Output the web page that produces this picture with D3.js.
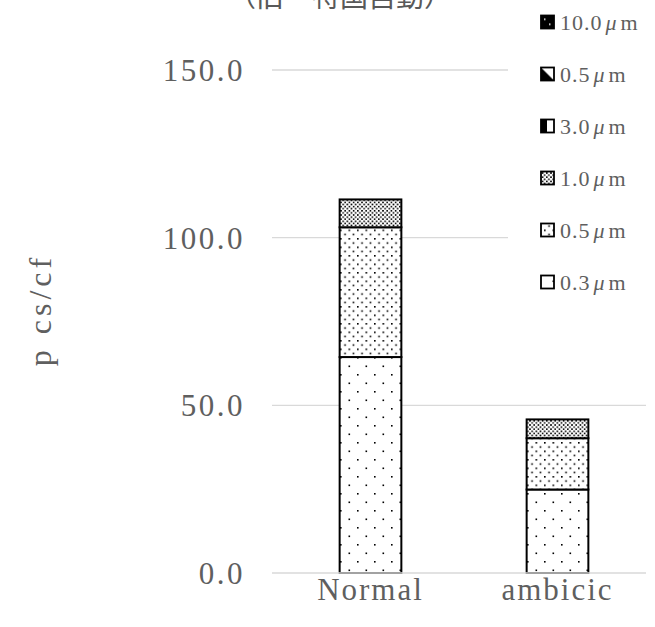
<!DOCTYPE html>
<html><head><meta charset="utf-8">
<script src="https://cdn.jsdelivr.net/npm/d3@7"></script>
<style>body{margin:0;background:#fff}svg{display:block}</style>
</head><body>
<script>
const categories = ["Normal", "ambicic"];
const seriesNames = ["0.3\u03bcm", "0.5\u03bcm", "1.0\u03bcm", "3.0\u03bcm", "0.5\u03bcm ", "10.0\u03bcm"];
const legendLabels = ["0.3", "0.5", "1.0", "3.0", "0.5", "10.0"];
const s03 = [64.4, 24.9];
const s05 = [38.7, 15.3];
const s10 = [8.3, 5.6];
const s30 = [0, 0];
const s05b = [0, 0];
const s100 = [0, 0];
const yTicks = [0, 50, 100, 150];
const seriesValues = [s03, s05, s10, s30, s05b, s100];

const W = 655, H = 627;
const svg = d3.select("body").append("svg").attr("width", W).attr("height", H);
const defs = svg.append("defs");
const serif = "'Liberation Serif','DejaVu Serif',serif";

function dotPattern(id, spacing, r) {
  const p = defs.append("pattern").attr("id", id).attr("patternUnits", "userSpaceOnUse")
    .attr("width", spacing).attr("height", spacing);
  p.append("rect").attr("width", spacing).attr("height", spacing).attr("fill", "#fff");
  p.append("rect").attr("x", 0).attr("y", 0).attr("width", r).attr("height", r).attr("fill", "#000");
  p.append("rect").attr("x", spacing / 2).attr("y", spacing / 2).attr("width", r).attr("height", r).attr("fill", "#000");
}
dotPattern("p03", 17, 1.6);
dotPattern("p05", 8.5, 1.6);
dotPattern("p10", 4.2, 1.6);
(function(){
  const p = defs.append("pattern").attr("id","p30").attr("patternUnits","objectBoundingBox").attr("width",1).attr("height",1);
  p.append("rect").attr("width",14).attr("height",14).attr("fill","#fff");
  p.append("rect").attr("width",6).attr("height",14).attr("fill","#000");
  const q = defs.append("pattern").attr("id","p05b").attr("patternUnits","objectBoundingBox").attr("width",1).attr("height",1);
  q.append("rect").attr("width",14).attr("height",14).attr("fill","#000");
  q.append("path").attr("d","M0,0 L14,14 L14,0 Z").attr("fill","#fff");
  q.append("path").attr("d","M0,3 L11,14 L0,14 Z").attr("fill","#000");
  const r = defs.append("pattern").attr("id","p100").attr("patternUnits","objectBoundingBox").attr("width",1).attr("height",1);
  r.append("rect").attr("width",14).attr("height",14).attr("fill","#000");
  r.append("rect").attr("x",3).attr("y",3).attr("width",1.5).attr("height",1.5).attr("fill","#fff");
  r.append("rect").attr("x",8).attr("y",8).attr("width",1.5).attr("height",1.5).attr("fill","#fff");
})();
const fills = ["url(#p03)", "url(#p05)", "url(#p10)", "url(#p30)", "url(#p05b)", "url(#p100)"];

const x = d3.scaleBand().domain(categories).range([277, 651]).paddingInner(0.67).paddingOuter(0.335);
const y = d3.scaleLinear().domain([0, 150]).range([573, 70]);
const gx0 = 272, gx1 = 646;

// title (mostly cut off at top, as in the reference)
svg.append("text").attr("x", 340).attr("y", 7).attr("text-anchor", "middle")
  .attr("font-family", "'Noto Sans CJK JP',sans-serif").attr("font-size", 28).attr("fill", "#595959")
  .text("（旧一特国自動）");

// gridlines
svg.append("g").selectAll("line").data(yTicks.filter(d => d > 0)).join("line")
  .attr("x1", gx0).attr("x2", gx1).attr("y1", d => y(d)).attr("y2", d => y(d))
  .attr("stroke", "#d9d9d9").attr("stroke-width", 1.3);

// y tick labels
svg.append("g").selectAll("text").data(yTicks).join("text")
  .attr("x", 245).attr("y", d => y(d) + 11).attr("text-anchor", "end")
  .attr("font-family", serif).attr("font-size", 31).attr("letter-spacing", 2.5).attr("fill", "#5f5f5f")
  .text(d => d3.format(".1f")(d));

// stacked bars
const table = categories.map((c, i) => {
  const o = { cat: c };
  seriesValues.forEach((s, k) => o["s" + k] = s[i]);
  return o;
});
const stack = d3.stack().keys(seriesValues.map((_, k) => "s" + k))(table);
stack.forEach((layer, k) => {
  svg.append("g").selectAll("rect").data(layer.filter(d => d[1] - d[0] > 0)).join("rect")
    .attr("x", d => x(d.data.cat)).attr("width", x.bandwidth())
    .attr("y", d => y(d[1])).attr("height", d => y(d[0]) - y(d[1]))
    .attr("fill", fills[k]).attr("stroke", "#000").attr("stroke-width", 2);
});

// x axis line
svg.append("line").attr("x1", gx0).attr("x2", gx1).attr("y1", y(0)).attr("y2", y(0))
  .attr("stroke", "#d9d9d9").attr("stroke-width", 1.3);

// x labels
svg.append("g").selectAll("text").data(categories).join("text")
  .attr("x", d => x(d) + x.bandwidth() / 2).attr("y", 600).attr("text-anchor", "middle")
  .attr("font-family", serif).attr("font-size", 31).attr("letter-spacing", 2).attr("fill", "#5f5f5f").text(d => d);

// y axis label
svg.append("text").attr("transform", "translate(51,310) rotate(-90)").attr("text-anchor", "middle")
  .attr("font-family", serif).attr("font-size", 32).attr("letter-spacing", 4).attr("fill", "#5f5f5f").text("p cs/cf");

// legend (reverse order)
const legendG = svg.append("g");
legendG.append("rect").attr("x", 508).attr("y", 0).attr("width", 147).attr("height", 300).attr("fill", "#fff");
const order = d3.range(seriesNames.length).reverse();
order.forEach((k, i) => {
  const cy = 22 + i * 52;
  legendG.append("rect").attr("x", 541).attr("y", cy - 6.5).attr("width", 13).attr("height", 13)
    .attr("fill", fills[k]).attr("stroke", "#000").attr("stroke-width", 1.8);
  const t = legendG.append("text").attr("x", 560).attr("y", cy + 8)
    .attr("font-family", serif).attr("font-size", 22).attr("fill", "#5f5f5f");
  t.append("tspan").attr("letter-spacing", 1).text(legendLabels[k]);
  t.append("tspan").attr("font-style", "italic").attr("dx", 3).text("\u03bc");
  t.append("tspan").attr("dx", 4).text("m");
});
</script>
</body></html>
